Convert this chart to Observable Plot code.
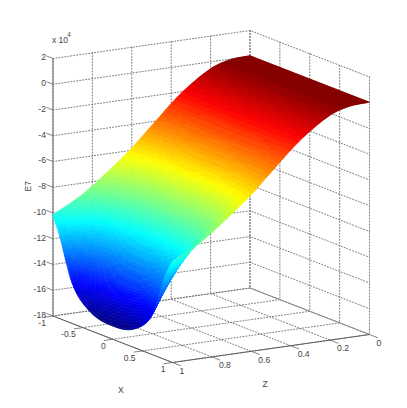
<!DOCTYPE html>
<html>
<head>
<meta charset="utf-8">
<style>
html,body{margin:0;padding:0;background:#fff}
svg{display:block}
</style>
<script src="https://cdn.jsdelivr.net/npm/d3@7"></script>
<script src="https://cdn.jsdelivr.net/npm/@observablehq/plot@0.6"></script>
</head>
<body>
<div id="chart"></div>
<script>
// Surface samples: E (in units of 10^4) at each Z (row) and X (column)
const xValues = [-1, -0.88, -0.78, -0.68, -0.54, -0.28, 0, 0.28, 0.54, 0.68, 0.78, 0.88, 1];
const zValues = [1, 0.95, 0.9, 0.85, 0.8, 0.7, 0.6, 0.5, 0.35, 0.2, 0.1, 0];
const eValues = [
  [-10.2, -11.63, -13.33, -14.82, -15.91, -16.8, -17, -16.8, -15.91, -14.82, -13.33, -11.63, -10.2],
  [-9.8, -10.91, -12.24, -13.4, -14.25, -14.94, -15.1, -14.94, -14.25, -13.4, -12.24, -10.91, -9.8],
  [-9.4, -10.24, -11.24, -12.12, -12.76, -13.28, -13.4, -13.28, -12.76, -12.12, -11.24, -10.24, -9.4],
  [-8.95, -9.58, -10.33, -10.99, -11.47, -11.86, -11.95, -11.86, -11.47, -10.99, -10.33, -9.58, -8.95],
  [-8.4, -8.86, -9.41, -9.9, -10.25, -10.53, -10.6, -10.53, -10.25, -9.9, -9.41, -8.86, -8.4],
  [-7.2, -7.52, -7.89, -8.22, -8.46, -8.66, -8.7, -8.66, -8.46, -8.22, -7.89, -7.52, -7.2],
  [-5.9, -6.08, -6.29, -6.48, -6.61, -6.72, -6.75, -6.72, -6.61, -6.48, -6.29, -6.08, -5.9],
  [-4.4, -4.48, -4.58, -4.67, -4.74, -4.79, -4.8, -4.79, -4.74, -4.67, -4.58, -4.48, -4.4],
  [-2.2, -2.2, -2.2, -2.2, -2.2, -2.2, -2.2, -2.2, -2.2, -2.2, -2.2, -2.2, -2.2],
  [-0.6, -0.6, -0.6, -0.6, -0.6, -0.6, -0.6, -0.6, -0.6, -0.6, -0.6, -0.6, -0.6],
  [-0.1, -0.1, -0.1, -0.1, -0.1, -0.1, -0.1, -0.1, -0.1, -0.1, -0.1, -0.1, -0.1],
  [0, 0, 0, 0, 0, 0, 0, 0, 0, 0, 0, 0, 0]
];
const xTicks = [-1, -0.5, 0, 0.5, 1];
const zTicks = [0, 0.2, 0.4, 0.6, 0.8, 1];
const eTicks = [2, 0, -2, -4, -6, -8, -10, -12, -14, -16, -18];

// MATLAB's jet(64) colormap for the colour scale
const jet = d3.range(64).map(i => {
  const t = (i + 0.5) / 64;
  const c = v => Math.round(255 * Math.max(0, Math.min(1, 1.5 - Math.abs(4 * t - v))));
  return `rgb(${c(3)},${c(2)},${c(1)})`;
});

// Orthographic 3-D view: plane coordinates of a point (X, Z, E)
const project = (X, Z, E) => {
  const s = (X + 1) / 2, u = 1 - Z;
  return {
    px: 52.5 + 119.5 * s + 197 * u,
    py: 315.5 + 46.5 * s - 28 * u - 12.875 * (E + 18)
  };
};

// Cubic shading inside each sampled patch (what "shading interp" does when drawing)
function hermite(xs, ys, x) {
  const asc = xs[0] < xs[xs.length - 1];
  const X = asc ? xs : xs.slice().reverse(), Y = asc ? ys : ys.slice().reverse();
  let i = Math.min(X.length - 2, Math.max(0, d3.bisectRight(X, x) - 1));
  const slope = k => k <= 0 ? (Y[1] - Y[0]) / (X[1] - X[0])
    : k >= X.length - 1 ? (Y[k] - Y[k - 1]) / (X[k] - X[k - 1])
    : (Y[k + 1] - Y[k - 1]) / (X[k + 1] - X[k - 1]);
  const h = X[i + 1] - X[i], t = (x - X[i]) / h;
  const t2 = t * t, t3 = t2 * t;
  return (2 * t3 - 3 * t2 + 1) * Y[i] + (t3 - 2 * t2 + t) * h * slope(i)
    + (-2 * t3 + 3 * t2) * Y[i + 1] + (t3 - t2) * h * slope(i + 1);
}

const nX = 130, nZ = 170;
const fineE = d3.range(nX + 1).map(i => {
  const X = -1 + 2 * i / nX;
  const col = eValues.map(r => hermite(xValues, r, X));
  return d3.range(nZ + 1).map(j => hermite(zValues, col, j / nZ));
});
// painter's order: far corner (X=-1, Z=0) first, near corner (X=1, Z=1) last
const quads = [];
let id = 0;
for (let j = 0; j < nZ; j++) {
  for (let i = 0; i < nX; i++) {
    const X0 = -1 + 2 * i / nX, X1 = -1 + 2 * (i + 1) / nX, Z0 = j / nZ, Z1 = (j + 1) / nZ;
    const e = (fineE[i][j] + fineE[i + 1][j] + fineE[i][j + 1] + fineE[i + 1][j + 1]) / 4;
    const a = project(X0, Z0, fineE[i][j]), b = project(X1, Z0, fineE[i + 1][j]);
    const c = project(X0, Z1, fineE[i][j + 1]), d = project(X1, Z1, fineE[i + 1][j + 1]);
    quads.push({id, e, x1: a.px, y1: a.py, x2: b.px, y2: b.py});
    quads.push({id, e, x1: c.px, y1: c.py, x2: d.px, y2: d.py});
    id++;
  }
}

// Grid lines on the back walls and floor
const grid = [];
eTicks.forEach(e => grid.push([[-1, 1, e], [-1, 0, e], [1, 0, e]]));
zTicks.forEach(z => grid.push([[-1, z, 2], [-1, z, -18], [1, z, -18]]));
xTicks.forEach(x => grid.push([[x, 0, 2], [x, 0, -18], [x, 1, -18]]));
const gridPts = grid.flatMap((pts, k) => pts.map(([X, Z, E]) => ({k, ...project(X, Z, E)})));

const seg = (pairs) => pairs.map(([a, b]) => {
  const p = project(...a), q = project(...b);
  return {x1: p.px, y1: p.py, x2: q.px, y2: q.py};
});
const eAxis = seg([[[-1, 1, 2], [-1, 1, -18]]]);
const floorAxes = seg([[[-1, 1, -18], [1, 1, -18]], [[1, 1, -18], [1, 0, -18]]]);
const backEdge = seg([[[-1, 0, -18], [1, 0, -18]]]);
const eTickSegs = seg(eTicks.map(e => [[-1, 1, e], [-1.11, 1, e]]));
const xTickSegs = seg(xTicks.map(x => [[x, 1, -18], [x, 1.045, -18]]));
const zTickSegs = seg(zTicks.map(z => [[1, z, -18], [1.14, z, -18]]));

const tickFont = {fontFamily: "Liberation Sans, Arial, sans-serif", fontSize: 8.6, fill: "#444"};
const at = (X, Z, E, label) => ({label, ...project(X, Z, E)});
const fmt = v => String(v);

const chart = Plot.plot({
  width: 407, height: 408, margin: 0,
  x: {domain: [0, 407], range: [0, 407], axis: null},
  y: {domain: [0, 408], range: [0, 408], axis: null},
  color: {type: "quantize", domain: [-17, 0], range: jet},
  marks: [
    Plot.line(gridPts, {x: "px", y: "py", z: "k", stroke: "#6a6a6a", strokeWidth: 0.9, strokeDasharray: "1,2"}),
    Plot.link(backEdge, {x1: "x1", y1: "y1", x2: "x2", y2: "y2", stroke: "#999", strokeWidth: 0.9}),
    Plot.link(eAxis, {x1: "x1", y1: "y1", x2: "x2", y2: "y2", stroke: "#8a8a8a", strokeWidth: 1.4}),
    Plot.link(floorAxes, {x1: "x1", y1: "y1", x2: "x2", y2: "y2", stroke: "#555", strokeWidth: 0.9}),
    Plot.link(eTickSegs, {x1: "x1", y1: "y1", x2: "x2", y2: "y2", stroke: "#666", strokeWidth: 0.8}),
    Plot.link(xTickSegs, {x1: "x1", y1: "y1", x2: "x2", y2: "y2", stroke: "#666", strokeWidth: 0.8}),
    Plot.link(zTickSegs, {x1: "x1", y1: "y1", x2: "x2", y2: "y2", stroke: "#666", strokeWidth: 0.8}),
    Plot.area(quads, {x1: "x1", y1: "y1", x2: "x2", y2: "y2", z: "id", fill: "e", stroke: "e", strokeWidth: 0.6}),
    Plot.text(eTicks.map(e => at(-1, 1, e, fmt(e))), {x: "px", y: "py", text: "label", textAnchor: "end", dx: -7, dy: -1, ...tickFont}),
    Plot.text(xTicks.map(x => at(x, 1, -18, fmt(x))), {x: "px", y: "py", text: "label", textAnchor: "end", dx: -7, dy: 7, ...tickFont}),
    Plot.text(zTicks.map(z => at(1, z, -18, fmt(z))), {x: "px", y: "py", text: "label", textAnchor: "start", dx: 7, dy: 8.5, ...tickFont}),
    Plot.text([at(-1, 1, -8, "E7")], {x: "px", y: "py", text: "label", rotate: -90, dx: -25, dy: -1, ...tickFont}),
    Plot.text([at(0, 1, -18, "X")], {x: "px", y: "py", text: "label", dx: 8, dy: 51, ...tickFont}),
    Plot.text([at(1, 0.5, -18, "Z")], {x: "px", y: "py", text: "label", dx: -6, dy: 36, ...tickFont}),
    Plot.text([at(-1, 1, 2, "x 10")], {x: "px", y: "py", text: "label", dx: 7, dy: -18, ...tickFont}),
    Plot.text([at(-1, 1, 2, "4")], {x: "px", y: "py", text: "label", dx: 16, dy: -24, fontSize: 6.5, fill: "#444", fontFamily: "Liberation Sans, Arial, sans-serif"})
  ]
});
document.getElementById("chart").append(chart);
</script>
</body>
</html>
